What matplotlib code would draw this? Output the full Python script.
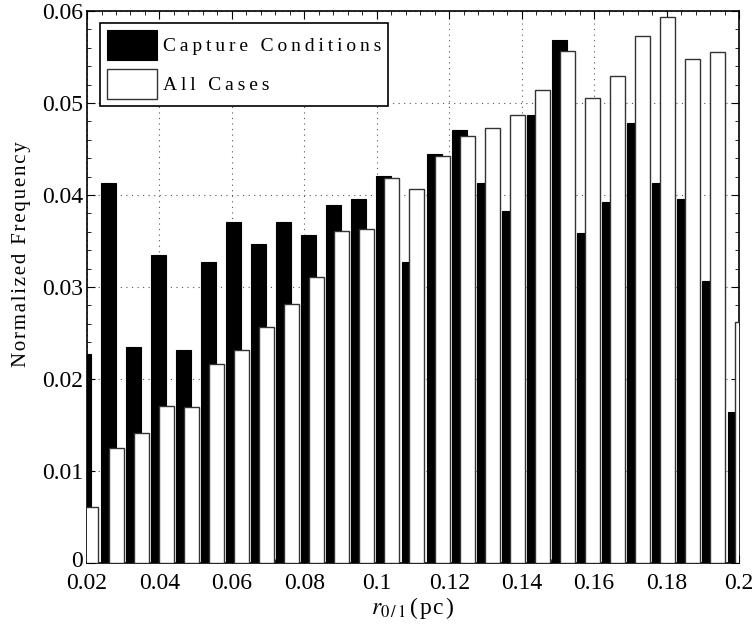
import numpy as np
import matplotlib
matplotlib.use("Agg")
import matplotlib.pyplot as plt
import matplotlib.transforms as mtransforms
from matplotlib.ticker import AutoMinorLocator, FormatStrFormatter

# bin centres of r_0/1 (pc)
bin_centers = np.linspace(0.02, 0.2, 27)

capture = [0.0227, 0.0413, 0.0235, 0.0335, 0.0232, 0.0327, 0.0371, 0.0347, 0.0371,
           0.0356, 0.0389, 0.0396, 0.0421, 0.0327, 0.0445, 0.0471, 0.0413, 0.0383,
           0.0487, 0.0569, 0.0359, 0.0392, 0.0478, 0.0413, 0.0396, 0.0306, 0.0164]
all_cases = [0.0061, 0.0125, 0.0141, 0.0171, 0.0170, 0.0216, 0.0232, 0.0256, 0.0282,
             0.0311, 0.0361, 0.0363, 0.0418, 0.0406, 0.0442, 0.0464, 0.0473, 0.0487,
             0.0514, 0.0557, 0.0505, 0.0529, 0.0573, 0.0593, 0.0548, 0.0555, 0.0262]

labels = ["Capture Conditions", "All Cases"]

SERIF = ["Liberation Serif", "DejaVu Serif"]
plt.rcParams["font.family"] = SERIF
plt.rcParams["mathtext.fontset"] = "stix"


def spaced(s, gap="\u2009"):
    # mimic the loose letter spacing of the original
    return gap.join(s)


fig = plt.figure(figsize=(7.56, 6.28), dpi=100)
ax = fig.add_axes([0.1151, 0.1035, 0.8624, 0.879])

width = 0.00414
off = 0.0011
ax.bar(bin_centers - off, capture, width, color="black", edgecolor="black",
       linewidth=0.8, label=spaced(labels[0]), zorder=2)
ax.bar(bin_centers + off, all_cases, width, color="white", edgecolor="#333333",
       linewidth=1.0, label=spaced(labels[1]), zorder=3)

ax.set_xlim(0.02, 0.2)
ax.set_ylim(0, 0.06)
ax.set_xticks(np.arange(0.02, 0.201, 0.02))
ax.set_yticks(np.arange(0, 0.061, 0.01))
ax.xaxis.set_major_formatter(FormatStrFormatter("%g"))
ax.yaxis.set_major_formatter(FormatStrFormatter("%g"))
ax.xaxis.set_minor_locator(AutoMinorLocator(5))
ax.yaxis.set_minor_locator(AutoMinorLocator(5))
ax.tick_params(which="major", direction="in", length=6, width=0.8,
               top=True, right=True, labelsize=17)
ax.tick_params(axis="x", which="major", pad=7)
ax.tick_params(axis="y", which="major", pad=3)
ax.tick_params(which="minor", direction="in", length=3, width=0.6,
               top=True, right=True)

# lift the "0" a touch so it does not sit on top of "0.02"
zero_lbl = ax.get_yticklabels()[0]
zero_lbl.set_transform(zero_lbl.get_transform() +
                       mtransforms.ScaledTranslation(0, 3 / 72, fig.dpi_scale_trans))

ax.grid(True, which="major", linestyle=(0, (1, 4)), color="#555555", linewidth=0.8)
ax.set_axisbelow(True)
for sp in ax.spines.values():
    sp.set_linewidth(1.2)

ax.set_ylabel(spaced("Normalized Frequency", "\u200a"), fontsize=15)
ax.yaxis.set_label_coords(-0.086, 0.56)
ax.set_xlabel(r"$r_{0\,/\,1}\,$" + spaced("(pc)", "\u200a"), fontsize=17, labelpad=1)

leg = ax.legend(loc="upper left", bbox_to_anchor=(0.02, 0.978), fontsize=14,
                frameon=True, fancybox=False, edgecolor="black", framealpha=1,
                handlelength=2.6, handleheight=2.0, borderaxespad=0,
                borderpad=0.35, labelspacing=0.45, handletextpad=0.3)
leg.get_frame().set_linewidth(1.2)

fig.savefig("out.png", dpi=100)
